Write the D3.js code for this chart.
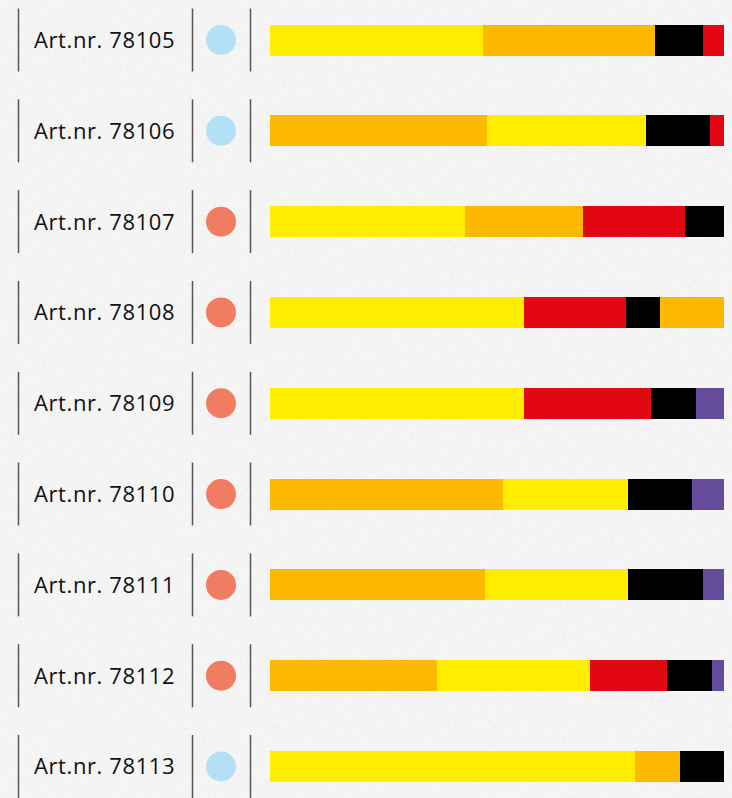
<!DOCTYPE html>
<html>
<head>
<meta charset="utf-8">
<script src="https://cdn.jsdelivr.net/npm/d3@7"></script>
<style>
    html, body { margin: 0; padding: 0; background: #f4f4f4; }
    #chart { width: 732px; height: 798px; }
    text { font-family: "Open Sans", "Noto Sans", sans-serif; }
</style>
</head>
<body>
<div id="chart"></div>
<script>
const articles = ["Art.nr. 78105", "Art.nr. 78106", "Art.nr. 78107", "Art.nr. 78108", "Art.nr. 78109",
    "Art.nr. 78110", "Art.nr. 78111", "Art.nr. 78112", "Art.nr. 78113"];
const dotTypes = ["blue", "blue", "red", "red", "red", "red", "red", "red", "blue"];

// segment order and share (%) per article
const segmentKeys = [
    ["yellow", "orange", "black", "red"],
    ["orange", "yellow", "black", "red"],
    ["yellow", "orange", "red", "black"],
    ["yellow", "red", "black", "orange"],
    ["yellow", "red", "black", "purple"],
    ["orange", "yellow", "black", "purple"],
    ["orange", "yellow", "black", "purple"],
    ["orange", "yellow", "red", "black", "purple"],
    ["yellow", "orange", "black"]
];
const segmentValues = [
    [47, 38, 10.5, 4.5],
    [48, 35, 14, 3],
    [43, 26, 22.5, 8.5],
    [56, 22.5, 7.5, 14],
    [56, 28, 10, 6],
    [51.5, 27.5, 14, 7],
    [47.5, 31.5, 16.5, 4.5],
    [37, 33.5, 17, 10, 2.5],
    [80.5, 10, 9.5]
];

const segColor = d3.scaleOrdinal()
    .domain(["yellow", "orange", "red", "black", "purple"])
    .range(["#ffed00", "#fcb900", "#e30613", "#000000", "#654c9b"]);
const dotColor = d3.scaleOrdinal()
    .domain(["blue", "red"])
    .range(["#b3e0f7", "#f07c62"]);

const width = 732, height = 798;
const svg = d3.select("#chart").append("svg")
    .attr("width", width)
    .attr("height", height);

// paper-like background, kept faint
const defs = svg.append("defs");
const paper = defs.append("filter").attr("id", "paper")
    .attr("x", 0).attr("y", 0).attr("width", "100%").attr("height", "100%");
paper.append("feTurbulence")
    .attr("type", "fractalNoise")
    .attr("baseFrequency", 0.35)
    .attr("numOctaves", 2)
    .attr("seed", 7);
paper.append("feColorMatrix")
    .attr("type", "matrix")
    .attr("values", "0 0 0 0 0.55  0 0 0 0 0.55  0 0 0 0 0.55  0 0 0 -2.2 1.2");
svg.append("rect").attr("width", width).attr("height", height).attr("fill", "#f5f5f5");
svg.append("rect").attr("width", width).attr("height", height)
    .attr("filter", "url(#paper)").attr("opacity", 0.12);

const y = d3.scalePoint()
    .domain(articles)
    .range([40, 766.5]);

const x = d3.scaleLinear()
    .domain([0, 100])
    .range([269.5, 723.5]);

const barHeight = 31;
const lineHalf = 31.5;
const dividers = [18.5, 192.5, 250.5];

const rows = svg.append("g").selectAll("g")
    .data(articles.map((name, i) => ({ name, i })))
    .join("g")
    .attr("transform", d => `translate(0, ${y(d.name)})`);

rows.selectAll("line")
    .data(dividers)
    .join("line")
    .attr("x1", d => d).attr("x2", d => d)
    .attr("y1", -lineHalf).attr("y2", lineHalf)
    .attr("stroke", "#555")
    .attr("stroke-width", 1.5);

rows.append("text")
    .attr("x", 34)
    .attr("dy", "0.36em")
    .attr("font-size", 22)
    .attr("letter-spacing", 0.6)
    .attr("fill", "#111")
    .text(d => d.name);

rows.append("circle")
    .attr("cx", 221)
    .attr("r", 15)
    .attr("fill", d => dotColor(dotTypes[d.i]));

rows.each(function (d) {
    const vals = segmentValues[d.i];
    const total = d3.sum(vals);
    let acc = 0;
    const segs = vals.map((v, j) => {
        const s = { key: segmentKeys[d.i][j], start: acc / total * 100, end: (acc + v) / total * 100 };
        acc += v;
        return s;
    });
    d3.select(this).selectAll("rect")
        .data(segs)
        .join("rect")
        .attr("x", s => x(s.start))
        .attr("width", s => x(s.end) - x(s.start))
        .attr("y", -barHeight / 2)
        .attr("height", barHeight)
        .attr("fill", s => segColor(s.key))
        .attr("shape-rendering", "crispEdges");
});
</script>
</body>
</html>
